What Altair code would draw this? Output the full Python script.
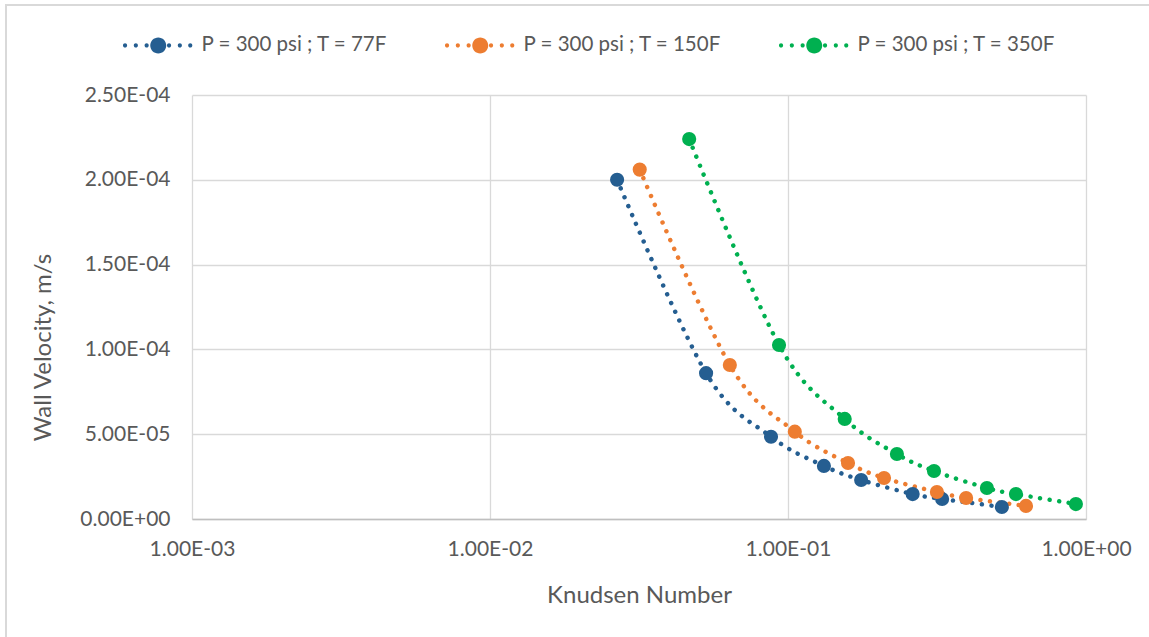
import altair as alt
import pandas as pd

# Knudsen number vs. wall velocity at P = 300 psi for three temperatures
series_names = ["P = 300 psi ; T = 77F", "P = 300 psi ; T = 150F", "P = 300 psi ; T = 350F"]
series_colors = ["#255E91", "#ED7D31", "#00B050"]

kn_77 = [0.0267, 0.0531, 0.0877, 0.132, 0.176, 0.262, 0.329, 0.522]
vel_77 = [2.00e-4, 8.60e-5, 4.85e-5, 3.13e-5, 2.30e-5, 1.47e-5, 1.18e-5, 7.1e-6]

kn_150 = [0.0318, 0.0638, 0.1054, 0.159, 0.210, 0.316, 0.396, 0.629]
vel_150 = [2.06e-4, 9.08e-5, 5.15e-5, 3.30e-5, 2.42e-5, 1.59e-5, 1.24e-5, 7.7e-6]

kn_350 = [0.0466, 0.0933, 0.155, 0.232, 0.309, 0.465, 0.582, 0.925]
vel_350 = [2.24e-4, 1.026e-4, 5.90e-5, 3.83e-5, 2.83e-5, 1.83e-5, 1.47e-5, 8.8e-6]

x_ticks = [0.001, 0.01, 0.1, 1.0]
y_ticks = [0.0, 5e-5, 1e-4, 1.5e-4, 2e-4, 2.5e-4]

rows = []
for name, xs, ys in zip(series_names, [kn_77, kn_150, kn_350], [vel_77, vel_150, vel_350]):
    for xv, yv in zip(xs, ys):
        rows.append({"series": name, "kn": xv, "vel": yv})
df = pd.DataFrame(rows)

FONT = "Lato"
TEXT = "#595959"
GRID = "#d9d9d9"

sci_expr = "replace(replace(format(datum.value, '.2e'), 'e-', 'E-0'), 'e+', 'E+0')"

color_scale = alt.Scale(domain=series_names, range=series_colors)

# legend glyph: three small dots, a large marker, three small dots
def circ(cx, r):
    return f"M{cx - r},0a{r},{r} 0 1,0 {2 * r},0a{r},{r} 0 1,0 {-2 * r},0Z"

legend_path = "".join(
    [circ(c, 0.26) for c in (-4.15, -2.8, -1.45)]
    + [circ(0, 1)]
    + [circ(c, 0.26) for c in (1.35, 2.7, 4.0)]
)

legend = alt.Legend(
    title=None,
    orient="none",
    direction="horizontal",
    legendX=-44,
    legendY=-60,
    symbolType=legend_path,
    symbolSize=256,
    symbolOpacity=1,
    symbolStrokeWidth=0,
    labelOffset=33,
    labelLimit=400,
    columnPadding=55,
    labelFont=FONT,
    labelFontSize=20.5,
    labelColor=TEXT,
)

color_enc = alt.Color("series:N", scale=color_scale, sort=series_names, legend=legend)

x_enc = alt.X(
    "kn:Q",
    scale=alt.Scale(type="log", domain=[0.001, 1.0], nice=False),
    axis=alt.Axis(
        title="Knudsen Number",
        values=x_ticks,
        labelExpr=sci_expr,
        grid=True,
        gridColor=GRID,
        gridWidth=1.3,
        domainColor="#bfbfbf",
        domainWidth=1.3,
        ticks=False,
        labelPadding=19,
        labelFontSize=21,
        labelColor=TEXT,
        labelFont=FONT,
        titleFont=FONT,
        titleFontSize=24,
        titleFontWeight="normal",
        titleColor=TEXT,
        titlePadding=24,
        labelFlush=False,
    ),
)

y_enc = alt.Y(
    "vel:Q",
    scale=alt.Scale(domain=[0, 2.5e-4], nice=False),
    axis=alt.Axis(
        title="Wall Velocity, m/s",
        values=y_ticks,
        labelExpr=sci_expr,
        grid=True,
        gridColor=GRID,
        gridWidth=1.3,
        domain=False,
        ticks=False,
        labelPadding=22,
        labelFontSize=21,
        labelColor=TEXT,
        labelFont=FONT,
        titleFont=FONT,
        titleFontSize=24,
        titleFontWeight="normal",
        titleColor=TEXT,
        titleAngle=-90,
        titleX=-149,
        titleY=252,
        titleAlign="center",
        titleBaseline="middle",
    ),
)

lines = alt.Chart(df).mark_line(
    interpolate="cardinal",
    strokeWidth=4.5,
    strokeCap="round",
    strokeDash=[0.01, 9.6],
).encode(
    x=x_enc,
    y=y_enc,
    color=color_enc,
    detail="series:N",
)

points = alt.Chart(df).mark_point(
    shape="circle", filled=True, size=200, opacity=1
).encode(
    x=x_enc,
    y=y_enc,
    color=color_enc,
)

# light frame around the chart area
frame = alt.Chart(df).mark_rect(
    fill=None, stroke="#d9d9d9", strokeWidth=2
).encode(
    x=alt.value(-186), x2=alt.value(1100), y=alt.value(-90), y2=alt.value(700)
)

chart = alt.layer(frame, lines, points).properties(
    width=894,
    height=424,
    padding={"left": 192, "top": 95, "right": 63, "bottom": 118},
    autosize=alt.AutoSizeParams(type="none"),
    background="white",
).configure_view(stroke=None)

chart.save("out.html", embed_options={"renderer": "svg", "actions": False})
